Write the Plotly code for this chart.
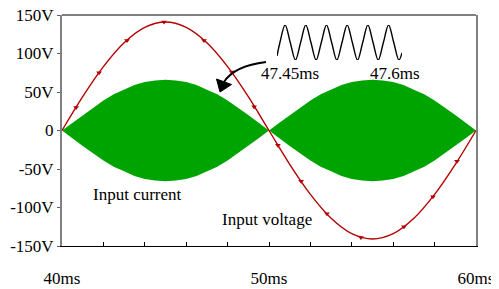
import numpy as np
import plotly.graph_objects as go

# ---- data ----
v_time_ms = list(range(40, 61))
input_voltage = [0, 44, 83, 114, 134, 141, 134, 114, 83, 44, 0,
                 -44, -83, -114, -134, -141, -134, -114, -83, -44, 0]

marker_time_ms = [40.68, 41.79, 43.14, 44.93, 46.86, 48.2, 49.28, 50.43,
                  51.55, 52.8, 54.44, 56.52, 57.92, 59.08]
marker_voltage = [30, 75, 117, 141, 117, 76, 31, -19, -66, -108, -139, -125, -86, -40]

env_time_ms = [40 + 0.5 * i for i in range(41)]
current_envelope = [0, 10, 20, 30, 39, 47, 53, 59, 63, 65, 66, 65, 63, 59, 53, 47, 39, 30, 20, 10,
                    0, 10, 20, 30, 39, 47, 53, 59, 63, 65, 66, 65, 63, 59, 53, 47, 39, 30, 20, 10, 0]

inset_values = [-0.77] + [0, 1, 0, -1] * 6 + [-0.59]
inset_time_ms = [47.45] + list(np.linspace(47.4535, 47.5963, 24)) + [47.6]

y_tickvals = [-150, -100, -50, 0, 50, 100, 150]
y_ticktext = ["-150V", "-100V", "-50V", "0", "50V", "100V", "150V"]
x_tickvals = list(range(40, 61, 2))
x_ticktext = ["40ms" if v == 40 else "50ms" if v == 50 else "60ms" if v == 60 else "" for v in x_tickvals]

RED = "#b40000"
GREEN = "#00a400"
FONT = "Liberation Serif"

fig = go.Figure()

# green current envelope (filled)
neg_env = [-v for v in current_envelope]
fig.add_trace(go.Scatter(
    x=env_time_ms + env_time_ms[::-1],
    y=current_envelope + neg_env[::-1],
    fill="toself", fillcolor=GREEN, mode="lines",
    line=dict(width=0, color=GREEN), hoverinfo="skip", showlegend=False))

# red voltage line
fig.add_trace(go.Scatter(
    x=v_time_ms, y=input_voltage, mode="lines",
    line=dict(color=RED, width=1.4, shape="spline"), showlegend=False))
fig.add_trace(go.Scatter(
    x=marker_time_ms, y=marker_voltage, mode="markers",
    marker=dict(symbol="triangle-down", size=5, color=RED), showlegend=False))

# inset waveform
fig.add_trace(go.Scatter(
    x=inset_time_ms, y=inset_values, mode="lines", xaxis="x2", yaxis="y2",
    line=dict(color="black", width=1.4, shape="spline"), showlegend=False))

# page body has an 8px margin: figure starts at (8, 8) in the window
OFF = 8
W, H = 499 - OFF, 289 - OFF
PLOT_L, PLOT_R, PLOT_T, PLOT_B = 62, 476, 15, 246   # plot area in window pixels
L, T = PLOT_L - OFF, PLOT_T - OFF
R, B = W - (PLOT_R - OFF), H - (PLOT_B - OFF)
PW, PH = PLOT_R - PLOT_L, PLOT_B - PLOT_T


def px(x, y):
    return (x - PLOT_L) / PW, (PLOT_B - y) / PH


annotations = []


def add_text(text, x, y, xanchor="center"):
    xp, yp = px(x, y)
    annotations.append(dict(text=text, x=xp, y=yp, xref="paper", yref="paper",
                            xanchor=xanchor, yanchor="middle", showarrow=False,
                            borderpad=0,
                            font=dict(family=FONT, size=17, color="black")))


add_text("47.45ms", 289.5, 73)
add_text("47.6ms", 394.5, 73)
add_text("Input current", 92, 194, "left")
add_text("Input voltage", 221, 219, "left")

# curved arrow
p0 = px(266, 62)
c = px(234, 66)
p1 = px(224, 82)
h1 = px(216.5, 79)
h2 = px(231.5, 84.5)
ht = px(220, 92)
shapes = [
    dict(type="path", xref="paper", yref="paper",
         path=f"M {p0[0]} {p0[1]} Q {c[0]} {c[1]} {p1[0]} {p1[1]}",
         line=dict(color="black", width=2)),
    dict(type="path", xref="paper", yref="paper",
         path=f"M {h1[0]} {h1[1]} L {h2[0]} {h2[1]} L {ht[0]} {ht[1]} Z",
         line=dict(color="black", width=1), fillcolor="black"),
    dict(type="line", xref="paper", yref="paper", x0=0, x1=1, y0=1, y1=1,
         line=dict(color="#808080", width=2)),
]

fig.update_layout(
    width=W, height=H,
    margin=dict(l=L, r=R, t=T, b=B, autoexpand=False),
    paper_bgcolor="white", plot_bgcolor="white",
    font=dict(family=FONT, size=17, color="black"),
    showlegend=False,
    xaxis=dict(range=[40, 60], tickvals=x_tickvals, ticktext=x_ticktext,
               ticks="inside", ticklen=4, tickcolor="black",
               showline=True, linecolor="black", linewidth=1, mirror=False,
               showgrid=False, zeroline=False, ticklabelstandoff=17,
               automargin=False, ticklabeloverflow="allow",
               tickfont=dict(family=FONT, size=17, color="black")),
    yaxis=dict(range=[-150, 150], tickvals=y_tickvals, ticktext=y_ticktext,
               ticks="outside", ticklen=3, tickcolor="#606060",
               showline=True, linecolor="#808080", linewidth=2, mirror=True,
               showgrid=False, zeroline=False, automargin=False,
               ticklabeloverflow="allow",
               tickfont=dict(family=FONT, size=17, color="black")),
    xaxis2=dict(domain=[px(277, 0)[0], px(402, 0)[0]], range=[47.45, 47.6],
                anchor="y2", visible=False),
    yaxis2=dict(domain=[px(0, 60)[1], px(0, 25)[1]], range=[-1, 1],
                anchor="x2", visible=False),
    annotations=annotations,
    shapes=shapes,
)

fig.write_html("out.html")
